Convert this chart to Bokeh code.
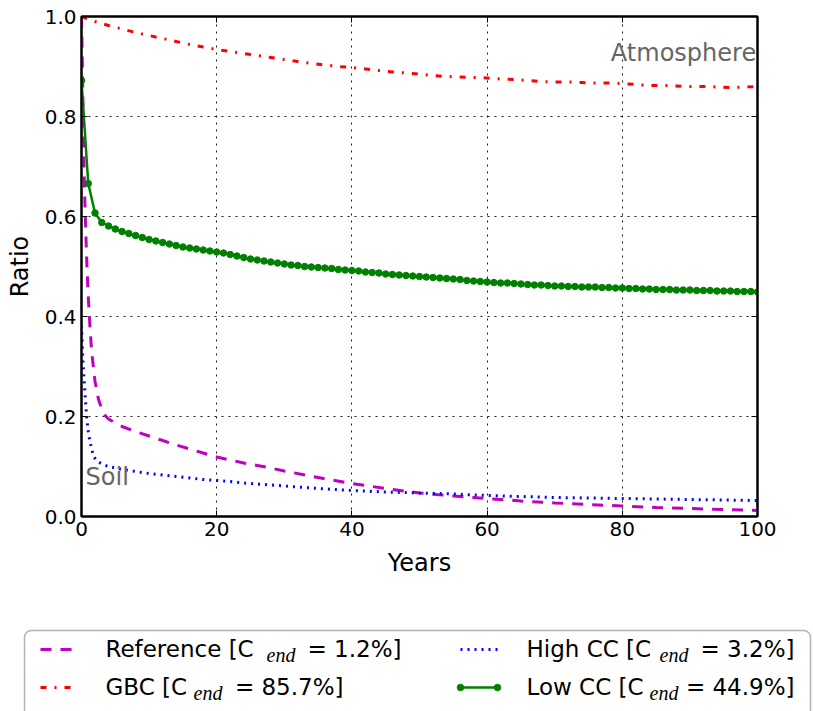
from bokeh.plotting import figure
from bokeh.models import Range1d, FixedTicker, LinearAxis, BoxAnnotation
from bokeh.core.properties import value
from bokeh.embed import file_html
from bokeh.resources import INLINE

# ---------------- data ----------------
ref_x = [0, 0.1, 0.2, 0.3, 0.4, 0.5, 0.75, 1.0, 1.25, 1.5, 2.0, 2.5, 3.0, 3.5, 4, 5, 6, 8, 10, 12, 14,
         16, 18, 20, 22, 24, 26, 28, 30, 35, 40, 45, 50, 55, 60, 65, 70, 75, 80, 85, 90, 95, 100]
ref_y = [1.0, 0.93, 0.84, 0.75, 0.68, 0.63, 0.52, 0.44, 0.38, 0.33, 0.27, 0.235, 0.215, 0.202, 0.195,
         0.187, 0.180, 0.170, 0.161, 0.152, 0.143, 0.135, 0.127, 0.119, 0.113, 0.107, 0.102, 0.097,
         0.091, 0.078, 0.066, 0.056, 0.047, 0.041, 0.036, 0.031, 0.027, 0.024, 0.021, 0.018, 0.016,
         0.014, 0.012]

gbc_x = [0, 2, 4, 6, 8, 10, 12, 14, 16, 18, 20, 22, 24, 26, 28, 30, 32, 34, 36, 38, 40, 42, 44, 46,
         48, 50, 52, 54, 56, 58, 60, 62, 64, 66, 68, 70, 72, 74, 76, 78, 80, 82, 84, 86, 88, 90, 92,
         94, 96, 98, 100]
gbc_y = [1.0, 0.99, 0.982, 0.975, 0.968, 0.962, 0.956, 0.950, 0.944, 0.939, 0.934, 0.930, 0.926,
         0.922, 0.918, 0.914, 0.910, 0.906, 0.903, 0.900, 0.898, 0.895, 0.892, 0.889, 0.887, 0.885,
         0.882, 0.880, 0.879, 0.878, 0.877, 0.875, 0.874, 0.872, 0.870, 0.869, 0.869, 0.868, 0.867,
         0.867, 0.866, 0.864, 0.862, 0.862, 0.861, 0.860, 0.860, 0.859, 0.858, 0.859, 0.860]

high_x = [0, 0.1, 0.25, 0.5, 0.75, 1.0, 1.25, 1.5, 1.8, 2.2, 3.0, 4.0, 5, 6, 8, 10, 12, 14, 16, 18,
          20, 22, 24, 26, 28, 30, 35, 40, 45, 50, 55, 60, 65, 70, 75, 80, 85, 90, 95, 100]
high_y = [0.382, 0.35, 0.30, 0.25, 0.20, 0.17, 0.15, 0.135, 0.12, 0.112, 0.105, 0.100, 0.097, 0.094,
          0.090, 0.086, 0.083, 0.080, 0.077, 0.074, 0.072, 0.070, 0.067, 0.065, 0.063, 0.061, 0.056,
          0.052, 0.049, 0.047, 0.045, 0.042, 0.040, 0.038, 0.037, 0.036, 0.035, 0.034, 0.033, 0.032]

low_x = list(range(0, 101))
low_y = [0.872, 0.666, 0.607, 0.588, 0.581, 0.575, 0.570, 0.566, 0.562, 0.558,
         0.554, 0.551, 0.548, 0.545, 0.542, 0.539, 0.537, 0.535, 0.533, 0.531,
         0.529, 0.527, 0.524, 0.521, 0.518, 0.515, 0.513, 0.511, 0.509, 0.507,
         0.505, 0.503, 0.502, 0.500, 0.499, 0.498, 0.497, 0.496, 0.494, 0.493,
         0.492, 0.491, 0.489, 0.488, 0.487, 0.485, 0.484, 0.483, 0.482, 0.481,
         0.480, 0.479, 0.478, 0.477, 0.476, 0.475, 0.474, 0.472, 0.471, 0.470,
         0.469, 0.468, 0.467, 0.467, 0.466, 0.465, 0.464, 0.463, 0.463, 0.462,
         0.461, 0.461, 0.460, 0.460, 0.459, 0.459, 0.459, 0.458, 0.458, 0.457,
         0.457, 0.456, 0.456, 0.455, 0.455, 0.454, 0.454, 0.454, 0.453, 0.453,
         0.453, 0.452, 0.452, 0.452, 0.451, 0.451, 0.451, 0.450, 0.450, 0.450,
         0.449]

series_names = ["Reference", "GBC", "High CC", "Low CC"]
series_cend = ["1.2", "85.7", "3.2", "44.9"]

x_ticks = [0, 20, 40, 60, 80, 100]
x_tick_labels = ["0", "20", "40", "60", "80", "100"]
y_ticks = [0.0, 0.2, 0.4, 0.6, 0.8, 1.0]
y_tick_labels = ["0.0", "0.2", "0.4", "0.6", "0.8", "1.0"]

# ---------------- styles ----------------
C_REF = "#bf00bf"
C_GBC = "#ff0000"
C_HIGH = "#0000ff"
C_LOW = "#008000"
FONT = "DejaVu Sans"
DASH_REF = "11 9"
DASH_GBC = "6 8 2 8"
DASH_HIGH = "2 5"

PW = 813

# ---------------- main plot ----------------
p = figure(width=PW, height=600, x_range=Range1d(0, 100), y_range=Range1d(0, 1),
           output_backend="svg", toolbar_location=None,
           min_border_left=81, min_border_right=56, min_border_top=16, min_border_bottom=84)
p.background_fill_color = "white"
p.border_fill_color = "white"
p.outline_line_color = "black"
p.outline_line_width = 2

for ax, ticks, labels in ((p.xaxis[0], x_ticks, x_tick_labels), (p.yaxis[0], y_ticks, y_tick_labels)):
    ax.ticker = FixedTicker(ticks=ticks)
    ax.major_label_overrides = {t: l for t, l in zip(ticks, labels)}
    ax.major_label_text_font = FONT
    ax.major_label_text_font_size = "20px"
    ax.major_label_text_color = "black"
    ax.axis_label_text_font = FONT
    ax.axis_label_text_font_size = "24px"
    ax.axis_label_text_font_style = "normal"
    ax.axis_label_text_color = "black"
    ax.major_tick_in = 6
    ax.major_tick_out = 0
    ax.major_tick_line_color = "black"
    ax.minor_tick_line_color = None
    ax.axis_line_width = 2
    ax.axis_line_color = "black"
    ax.major_label_standoff = 5

p.xaxis.axis_label = "Years"
p.yaxis.axis_label = "Ratio"
p.xaxis.axis_label_standoff = 10
p.yaxis.axis_label_standoff = 8

for loc, ticks in (("above", x_ticks), ("right", y_ticks)):
    ax = LinearAxis(ticker=FixedTicker(ticks=ticks),
                    major_label_overrides={t: "" for t in ticks},
                    major_label_text_font_size="0px", major_label_standoff=0,
                    major_tick_in=6, major_tick_out=0, minor_tick_line_color=None,
                    axis_line_width=2, axis_line_color="black")
    p.add_layout(ax, loc)

p.xgrid.ticker = FixedTicker(ticks=x_ticks)
p.ygrid.ticker = FixedTicker(ticks=y_ticks)
p.grid.grid_line_color = "black"
p.grid.grid_line_dash = "2 5"
p.grid.grid_line_width = 1
p.grid.grid_line_alpha = 0.9

p.line(ref_x, ref_y, line_color=C_REF, line_width=3, line_dash=DASH_REF)
p.line(gbc_x, gbc_y, line_color=C_GBC, line_width=3, line_dash=DASH_GBC)
p.line(high_x, high_y, line_color=C_HIGH, line_width=3, line_dash=DASH_HIGH)
p.line(low_x, low_y, line_color=C_LOW, line_width=2.5)
p.scatter(low_x, low_y, size=6.5, marker="circle", fill_color=C_LOW, line_color=C_LOW)

p.text(x=[99.8], y=[0.928], text=["Atmosphere"], text_align="right", text_baseline="alphabetic",
       text_font=value(FONT), text_font_size=value("24px"), text_color="#666666")
p.text(x=[0.6], y=[0.080], text=["Soil"], text_align="left", text_baseline="alphabetic",
       text_font=value(FONT), text_font_size=value("24px"), text_color="#666666")

# ---------------- legend (separate root, pixel coordinates) ----------------
LW, LH = PW, 111
lg = figure(width=LW, height=LH, x_range=Range1d(0, LW), y_range=Range1d(LH, 0),
            output_backend="svg", toolbar_location=None,
            min_border_left=0, min_border_right=0, min_border_top=0, min_border_bottom=0,
            x_axis_type=None, y_axis_type=None)
lg.outline_line_color = None
lg.background_fill_color = "white"
lg.border_fill_color = "white"

box = BoxAnnotation(left=24, right=810, top=30, bottom=150, border_radius=7, level="underlay",
                    fill_color=None, line_color="black", line_width=1.5)
lg.add_layout(box)

FS = 23
SUB_FS = 20
TEXT_DY = -9          # empirical baseline correction

col_text_x = [105, 526]
row_base_y = [57, 95]
sample_x = [(40, 73), (460, 497)]
sub_x = [266, 193, 659, 649]        # left edge of the "end" subscript, per entry
right_x = [401, 343, 794, 794]      # right edge of the closing bracket, per entry

styles = [
    dict(line_color=C_REF, line_width=3, line_dash=DASH_REF),
    dict(line_color=C_GBC, line_width=3, line_dash=DASH_GBC),
    dict(line_color=C_HIGH, line_width=3, line_dash=DASH_HIGH),
    dict(line_color=C_LOW, line_width=2.5),
]

for i, (name, cend) in enumerate(zip(series_names, series_cend)):
    col, row = i // 2, i % 2
    x0 = col_text_x[col]
    yb = row_base_y[row]
    sx0, sx1 = sample_x[col]
    ys = yb - 8
    lg.line([sx0, sx1], [ys, ys], **styles[i])
    if name == "Low CC":
        lg.scatter([sx0, sx1], [ys, ys], size=6.5, marker="circle", fill_color=C_LOW, line_color=C_LOW)
    yt = yb + TEXT_DY
    lg.text(x=[x0], y=[yt], text=[f"{name} [C"], text_align="left", text_baseline="alphabetic",
            text_font=value(FONT), text_font_size=value(f"{FS}px"), text_color="black")
    lg.text(x=[sub_x[i]], y=[yt + 6.5], text=["end"], text_align="left", text_baseline="alphabetic",
            text_font=value("Liberation Serif"), text_font_style="italic",
            text_font_size=value(f"{SUB_FS}px"), text_color="black")
    lg.text(x=[right_x[i]], y=[yt], text=[f"= {cend}%]"], text_align="right",
            text_baseline="alphabetic", text_font=value(FONT), text_font_size=value(f"{FS}px"),
            text_color="black")

open("out.html", "w").write(file_html([p, lg], INLINE))
